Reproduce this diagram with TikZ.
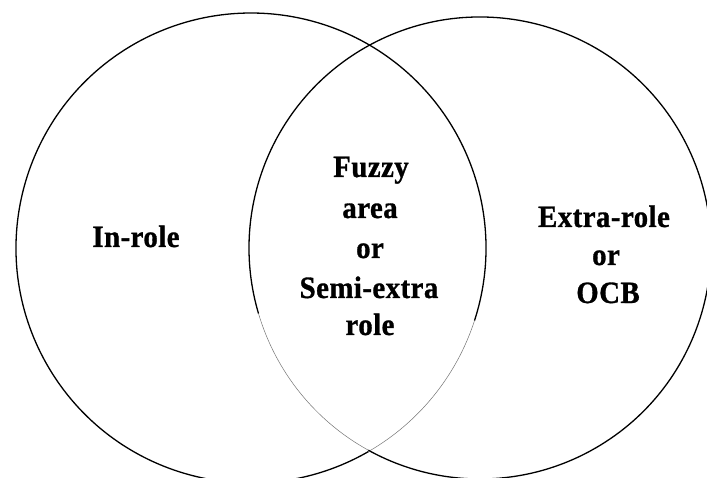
\documentclass[tikz,border=0pt]{standalone}
\usepackage{fontspec}
\setmainfont{Liberation Serif}
\newfontfamily\lblfont{Liberation Serif}[FakeStretch=0.93,LetterSpace=1.5,BoldFeatures={FakeBold=1}]
\begin{document}
\begin{tikzpicture}[x=1pt,y=-1pt,
  outline/.style={line width=1.3pt,black},
  faint/.style={line width=0.5pt,black!55},
  lbl/.style={font=\lblfont\bfseries\fontsize{31}{39.5}\selectfont,inner sep=0pt,anchor=base}]
\useasboundingbox (0,0) rectangle (707,478);
\clip (0,0) rectangle (707,478);
\coordinate (L) at (251,248);
\coordinate (R) at (480,248);
% left circle
\draw[outline] (L) ++(60:235) arc[start angle=60,end angle=300.4,radius=235];
\draw[outline] (L) ++(-59.6:235) arc[start angle=-59.6,end angle=18,radius=235];
\draw[faint] (L) ++(18:235) arc[start angle=18,end angle=60,radius=235];
% right circle
\draw[outline] (R) ++(-118.5:231) arc[start angle=-118.5,end angle=118.9,radius=231];
\draw[outline] (R) ++(163.5:231) arc[start angle=163.5,end angle=241.5,radius=231];
\draw[faint] (R) ++(118.9:231) arc[start angle=118.9,end angle=163.5,radius=231];
% labels
\node[lbl] (inrole) at (136,247) {In-role};
\node[lbl] (m1) at (371,177) {Fuzzy};
\node[lbl] (m2) at (370,218) {area};
\node[lbl] (m3) at (370,258) {or};
\node[lbl] (m4) at (369,298) {Semi-extra};
\node[lbl] (m5) at (370,335) {role};
\node[lbl] (r1) at (604,227) {Extra-role};
\node[lbl] (r2) at (606,265) {or};
\node[lbl] (r3) at (608,303) {OCB};
\end{tikzpicture}
\end{document}
